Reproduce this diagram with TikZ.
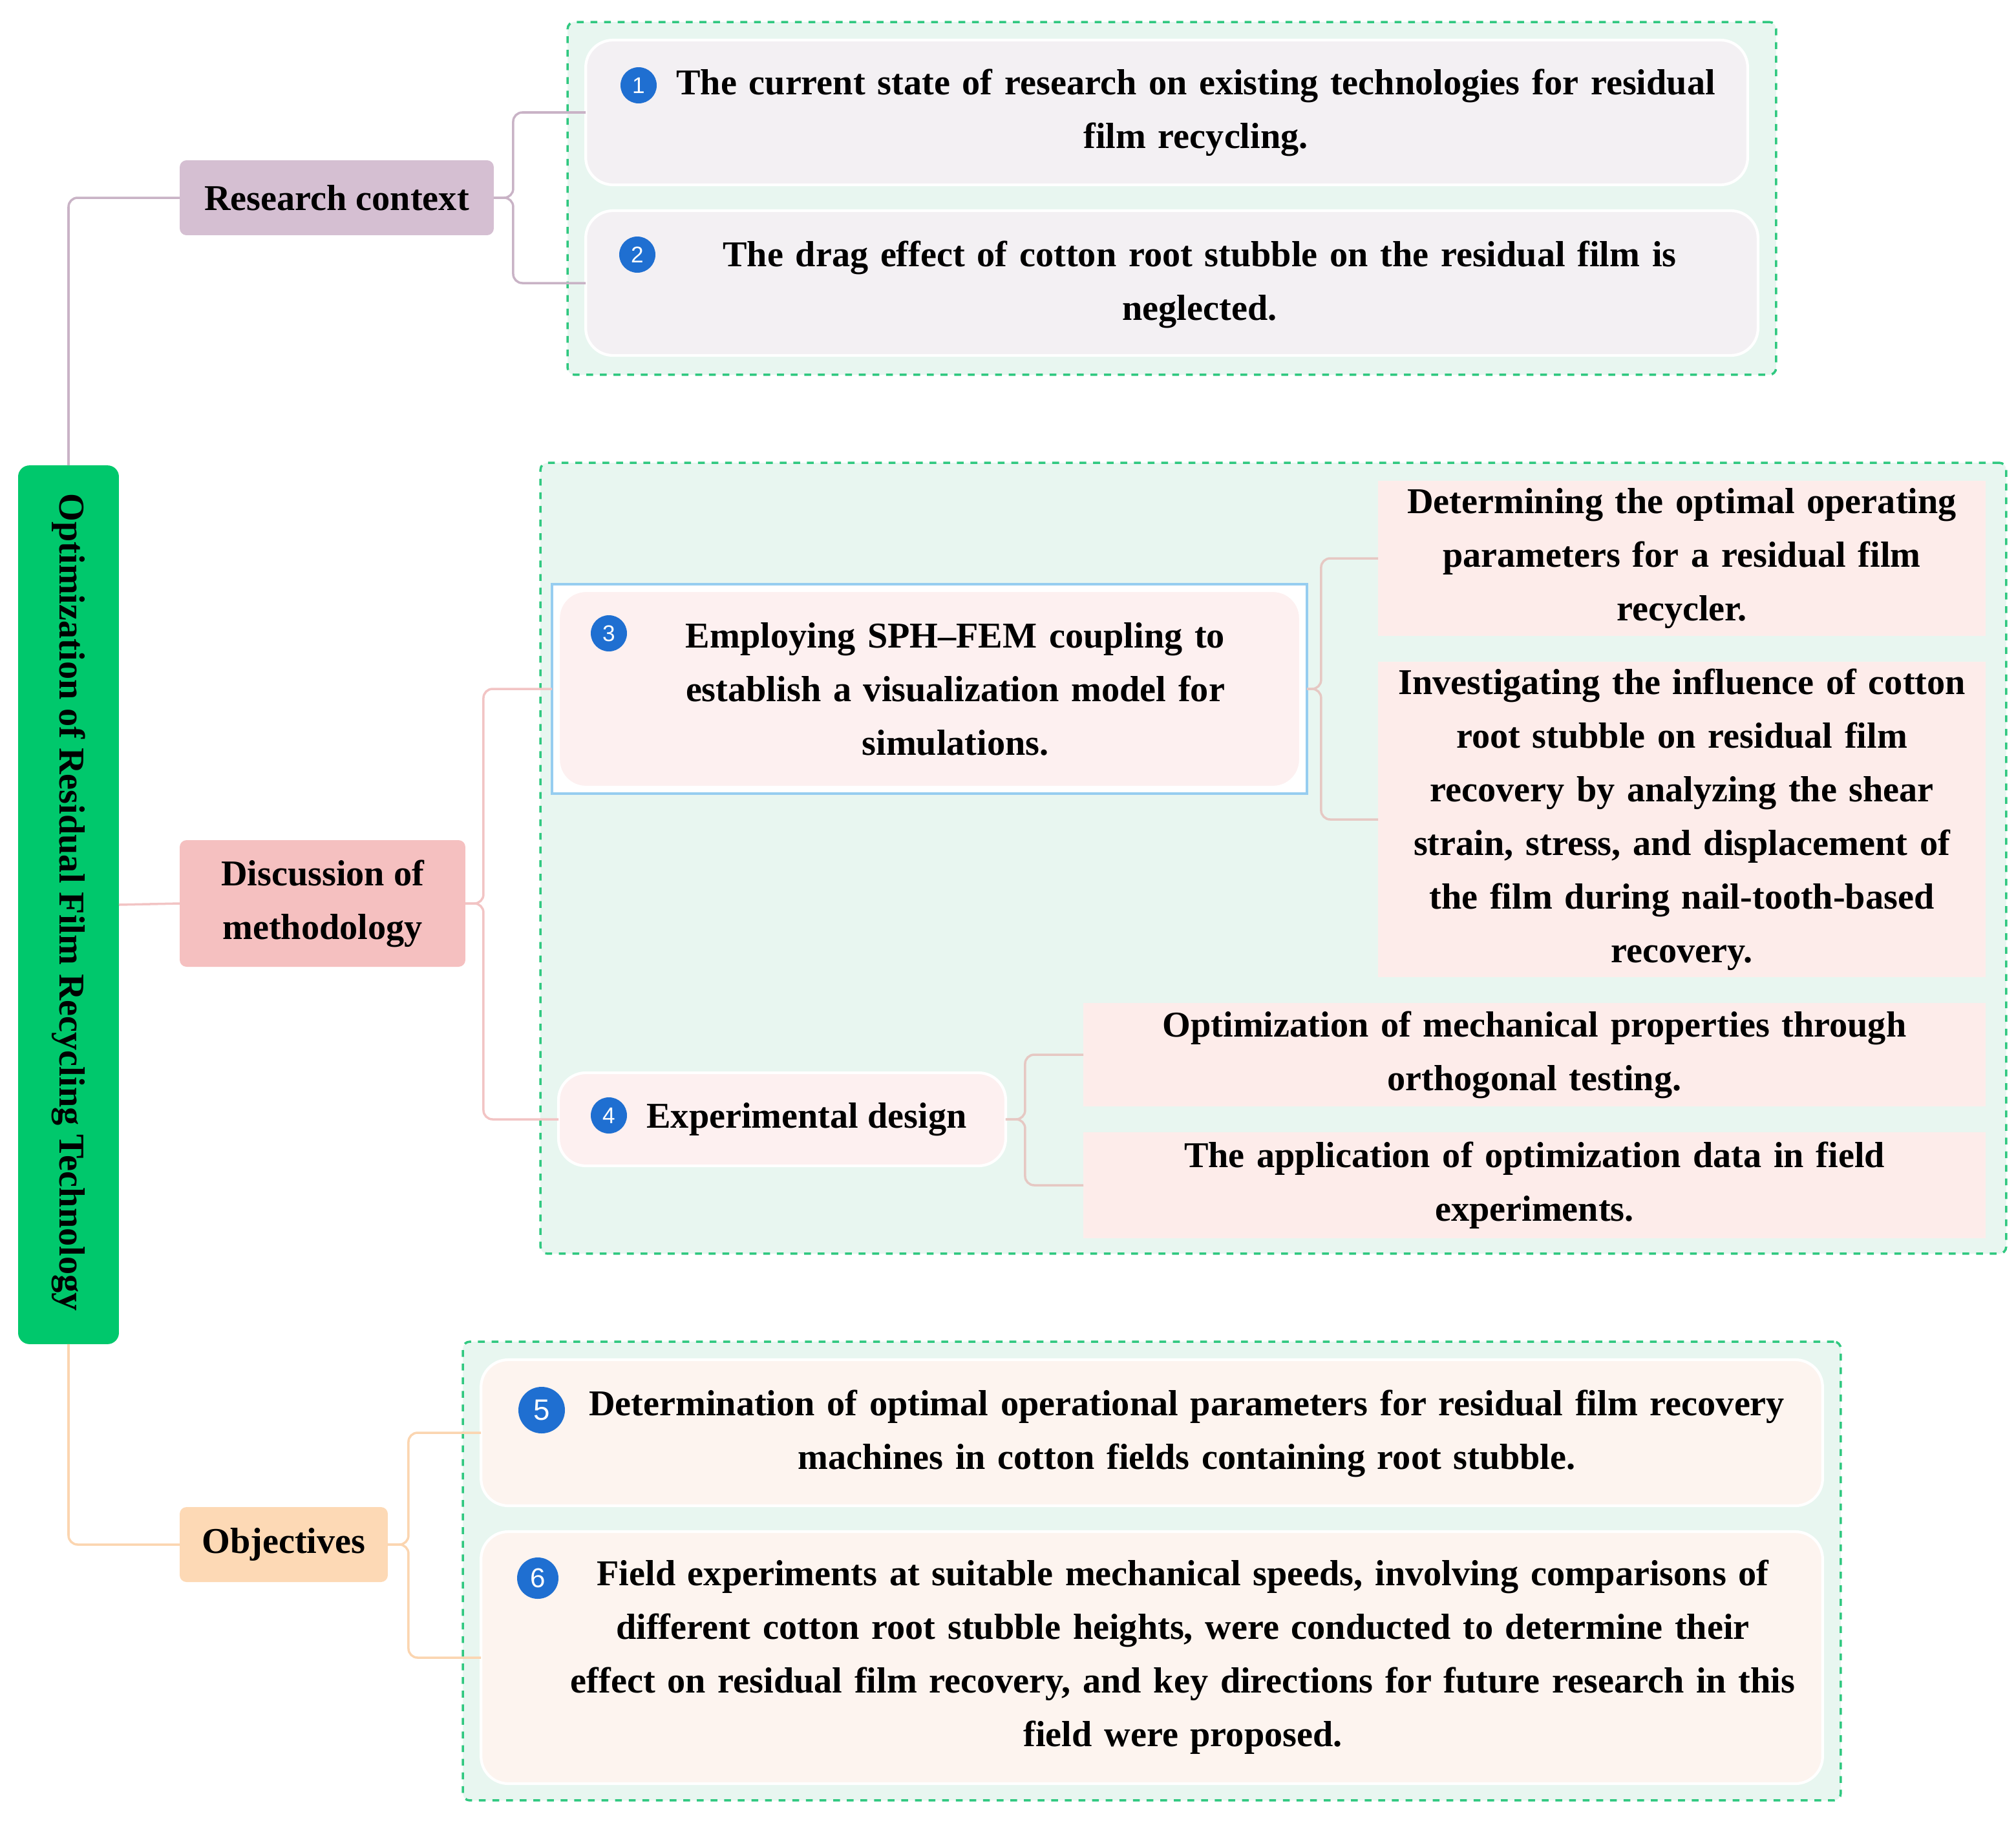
\documentclass[tikz,border=0pt]{standalone}
\usepackage{fontspec}
\setmainfont{Liberation Serif}
\newfontfamily\numf{Liberation Sans}
\begin{document}
\begin{tikzpicture}[x=0.02cm,y=-0.02cm,
 font=\fontsize{16}{23.6}\selectfont\bfseries,
 box/.style={inner sep=0pt,outer sep=0pt,rounded corners=3pt},
 item/.style={box,rounded corners=12pt,draw=white,line width=1.2pt},
 grp/.style={box,draw=grpline,dashed,line width=1pt,fill=grpfill},
 leaf/.style={box,rounded corners=0pt,fill=leaffill},
 txt/.style={align=center,inner sep=0pt},
 num/.style={circle,fill=numblue,text=white,inner sep=0pt,minimum size=5.6mm,font=\numf\fontsize{10}{10}\selectfont},
 cn/.style={line width=1pt,rounded corners=4pt}]
\definecolor{grpfill}{HTML}{E8F6F0}
\definecolor{grpline}{HTML}{30C880}
\definecolor{leaffill}{HTML}{FDECEA}
\definecolor{numblue}{HTML}{1F6FD1}
\definecolor{rootgreen}{HTML}{00C86C}
\useasboundingbox (0,0) rectangle (1559.5,1411.5);
% groups
\node[grp,minimum width=187mm,minimum height=54.6mm] (g1) at (906.5,153.5) {};
\node[grp,minimum width=226.8mm,minimum height=122.4mm] (g2) at (985,664) {};
\node[grp,minimum width=213.2mm,minimum height=71mm] (g3) at (891,1215.5) {};
% main nodes
\node[box,fill=rootgreen,minimum width=15.6mm,minimum height=136mm,rounded corners=5pt] (root) at (53,700) {};
\node[rotate=-90,txt] at (53,698) {Optimization of Residual Film Recycling Technology};
\node[box,fill={rgb,255:red,213;green,191;blue,210},minimum width=48.6mm,minimum height=11.6mm] (rc) at (260.5,153) {Research context};
\node[box,fill={rgb,255:red,245;green,192;blue,192},minimum width=44.2mm,minimum height=19.6mm,txt] (dm) at (249.5,699) {Discussion of\\methodology};
\node[box,fill={rgb,255:red,253;green,217;blue,181},minimum width=32.2mm,minimum height=11.6mm] (ob) at (219.5,1195) {Objectives};
% group 1
\node[item,fill={rgb,255:red,243;green,240;blue,243},minimum width=179.8mm,minimum height=22.4mm] (i1) at (902.5,87) {};
\node[txt,text width=170mm] at (925,87) {The current state of research on existing technologies for residual\\film recycling.};
\node[num] at (494,66) {1};
\node[item,fill={rgb,255:red,243;green,240;blue,243},minimum width=181.4mm,minimum height=22.4mm] (i2) at (906.5,219) {};
\node[txt,text width=165mm] at (928,220) {The drag effect of cotton root stubble on the residual film is\\neglected.};
\node[num] at (493,197) {2};
% group 2
\node[box,rounded corners=0pt,draw={rgb,255:red,150;green,205;blue,240},line width=1pt,fill=white,minimum width=116.8mm,minimum height=32.4mm] (i3o) at (719,533) {};
\node[item,fill={rgb,255:red,253;green,240;blue,240},minimum width=114.8mm,minimum height=30.4mm] (i3) at (719,533) {};
\node[txt,text width=100mm] at (739,533) {Employing SPH--FEM coupling to\\establish a visualization model for\\simulations.};
\node[num] at (471,490) {3};
\node[leaf,minimum width=94mm,minimum height=24mm] (la) at (1301,432) {};
\node[txt,text width=93mm] at (1301,432) {Determining the optimal operating\\parameters for a residual film\\recycler.};
\node[leaf,minimum width=94mm,minimum height=48.8mm] (lb) at (1301,634) {};
\node[txt,text width=93mm] at (1301,634) {Investigating the influence of cotton\\root stubble on residual film\\recovery by analyzing the shear\\strain, stress, and displacement of\\the film during nail-tooth-based\\recovery.};
\node[item,fill={rgb,255:red,253;green,240;blue,240},minimum width=69.2mm,minimum height=14.4mm] (i4) at (605,866) {};
\node[txt] at (624,866) {Experimental design};
\node[num] at (471,863) {4};
\node[leaf,minimum width=139.6mm,minimum height=16mm] (lc) at (1187,816) {};
\node[txt,text width=136mm] at (1187,816) {Optimization of mechanical properties through\\orthogonal testing.};
\node[leaf,minimum width=139.6mm,minimum height=16.4mm] (ld) at (1187,917) {};
\node[txt,text width=136mm] at (1187,917) {The application of optimization data in field\\experiments.};
% group 3
\node[item,fill={rgb,255:red,253;green,244;blue,239},minimum width=207.6mm,minimum height=22.6mm] (i5) at (891,1108.5) {};
\node[txt,text width=200mm] at (918,1109) {Determination of optimal operational parameters for residual film recovery\\machines in cotton fields containing root stubble.};
\node[num,minimum size=7.2mm,font=\numf\fontsize{13}{13}\selectfont] at (419,1091) {5};
\node[item,fill={rgb,255:red,253;green,244;blue,239},minimum width=207.6mm,minimum height=39mm] (i6) at (891,1282.5) {};
\node[txt,text width=200mm] at (915,1282) {Field experiments at suitable mechanical speeds, involving comparisons of\\different cotton root stubble heights, were conducted to determine their\\effect on residual film recovery, and key directions for future research in this\\field were proposed.};
\node[num,minimum size=6.4mm,font=\numf\fontsize{12}{12}\selectfont] at (416,1221) {6};
% connectors
\draw[cn,draw={rgb,255:red,201;green,179;blue,198}] (root.north) |- (rc.west);
\draw[cn,draw={rgb,255:red,242;green,196;blue,196}] (root.east) -- (dm.west);
\draw[cn,draw={rgb,255:red,251;green,213;blue,176}] (root.south) |- (ob.west);
\draw[cn,draw={rgb,255:red,201;green,179;blue,198}] (rc.east) -- ++(15,0) |- (i1.west);
\draw[cn,draw={rgb,255:red,201;green,179;blue,198}] (rc.east) -- ++(15,0) |- (i2.west);
\draw[cn,draw={rgb,255:red,242;green,196;blue,196}] (dm.east) -- ++(14,0) |- (i3o.west);
\draw[cn,draw={rgb,255:red,242;green,196;blue,196}] (dm.east) -- ++(14,0) |- (i4.west);
\draw[cn,draw={rgb,255:red,230;green,200;blue,195}] (i3o.east) -- ++(11,0) |- (la.west);
\draw[cn,draw={rgb,255:red,230;green,200;blue,195}] (i3o.east) -- ++(11,0) |- (lb.west);
\draw[cn,draw={rgb,255:red,230;green,200;blue,195}] (i4.east) -- ++(15,0) |- (lc.west);
\draw[cn,draw={rgb,255:red,230;green,200;blue,195}] (i4.east) -- ++(15,0) |- (ld.west);
\draw[cn,draw={rgb,255:red,251;green,213;blue,176}] (ob.east) -- ++(16,0) |- (i5.west);
\draw[cn,draw={rgb,255:red,251;green,213;blue,176}] (ob.east) -- ++(16,0) |- (i6.west);
\end{tikzpicture}
\end{document}
